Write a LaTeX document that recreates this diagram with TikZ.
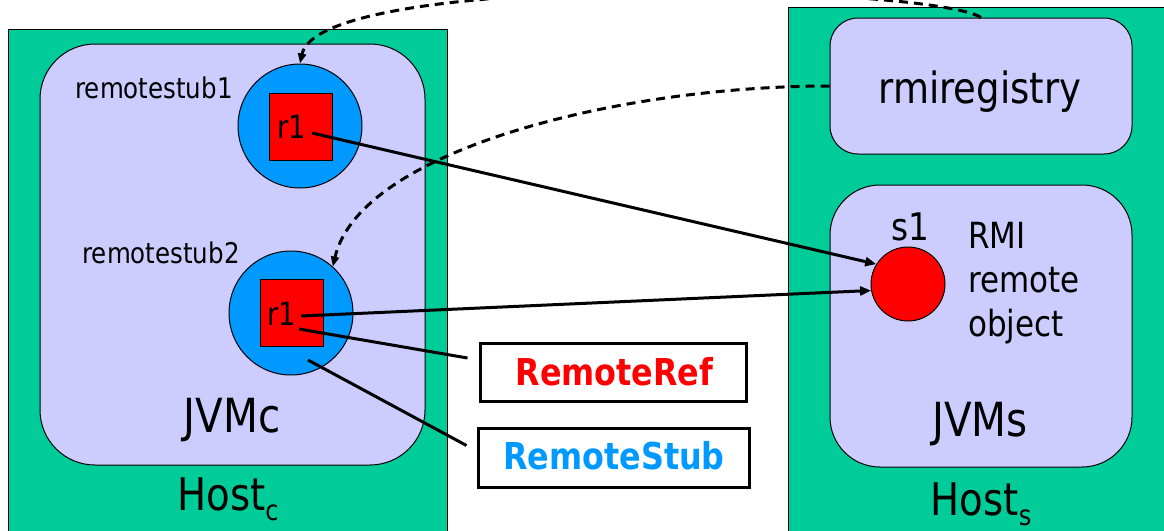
\documentclass[tikz,border=0pt]{standalone}
\usepackage{fontspec}
\setmainfont[FakeStretch=0.86]{DejaVu Sans}
\usetikzlibrary{arrows.meta}
\definecolor{hostgreen}{RGB}{0,204,153}
\definecolor{jvmlav}{RGB}{204,204,255}
\definecolor{stubblue}{RGB}{0,153,255}
\definecolor{refred}{RGB}{255,0,0}
\newcommand\fsz[1]{\fontsize{#1}{#1}\selectfont}
\begin{document}
\begin{tikzpicture}[x=1pt,y=-1pt,
  box/.style={draw=black,line width=1pt,inner sep=0pt},
  hostbox/.style={box,fill=hostgreen},
  jvmbox/.style={box,fill=jvmlav},
  stubcirc/.style={box,circle,fill=stubblue,minimum size=124pt},
  refsq/.style={box,fill=refred,minimum width=63pt,minimum height=67pt},
  txt/.style={inner sep=0pt,anchor=base},
  conn/.style={line width=3pt,-{Triangle[length=11pt,width=9pt]}},
  plainconn/.style={line width=3pt},
  dashconn/.style={line width=3pt,dash pattern=on 9pt off 6pt,-{Triangle[length=10pt,width=8pt]}},
  labelbox/.style={draw=black,line width=3pt,fill=white,inner sep=0pt}
]
\useasboundingbox (0,0) rectangle (1164,530);
\clip (0,0) rectangle (1164,530);
\fill[white] (0,0) rectangle (1164,530);

% left host
\node[hostbox,minimum width=439pt,minimum height=516pt] (hostc) at (227.5,287) {};
\node[jvmbox,rounded corners=55pt,minimum width=385pt,minimum height=421pt] (jvmc) at (232.5,254.5) {};
\node[stubcirc] (stub1) at (300,126) {};
\node[refsq] (ref1) at (300.5,126.5) {};
\node[txt,font=\fsz{32}] (r1a) at (291.7,138) {r1};
\node[stubcirc] (stub2) at (291,313) {};
\node[refsq] (ref2) at (291.5,312.5) {};
\node[txt,font=\fsz{32}] (r1b) at (282,325) {r1};
\node[txt,font=\fsz{28.5}] (lab1) at (154,98) {remotestub1};
\node[txt,font=\fsz{28.5}] (lab2) at (161,263) {remotestub2};
\node[txt,font=\fsz{47}] (jvmclab) at (232,432) {JVMc};
\node[txt,font=\fsz{45}] (hostclab) at (228,510) {Host\raisebox{-10pt}{\fsz{28}c}};

% right host
\node[hostbox,minimum width=392pt,minimum height=538pt] (hosts) at (984,276) {};
\node[jvmbox,rounded corners=28pt,minimum width=302pt,minimum height=136pt] (reg) at (981,86) {};
\node[txt,font=\fsz{43}] (reglab) at (980,103) {rmiregistry};
\node[jvmbox,rounded corners=50pt,minimum width=302pt,minimum height=282pt] (jvms) at (981,326) {};
\node[box,circle,fill=refred,minimum size=74pt] (s1) at (908,284) {};
\node[txt,font=\fsz{38}] (s1lab) at (910,240.5) {s1};
\node[txt,anchor=base west,font=\fsz{36}] (rmi1) at (968,248) {RMI};
\node[txt,anchor=base west,font=\fsz{36}] (rmi2) at (968,292) {remote};
\node[txt,anchor=base west,font=\fsz{36}] (rmi3) at (968,336) {object};
\node[txt,font=\fsz{47}] (jvmslab) at (980,436) {JVMs};
\node[txt,font=\fsz{45}] (hostslab) at (981,515) {Host\raisebox{-10pt}{\fsz{28}s}};

% legend boxes
\node[labelbox,minimum width=266pt,minimum height=58pt] (rrbox) at (613,372) {};
\node[txt,font=\bfseries\fsz{37},text=refred] (rrlab) at (614.5,385) {RemoteRef};
\node[labelbox,minimum width=271pt,minimum height=59pt] (rsbox) at (613.5,457.5) {};
\node[txt,font=\bfseries\fsz{37},text=stubblue] (rslab) at (614,469) {RemoteStub};

% connectors
\coordinate (p1) at (312,133);
\coordinate (p2) at (301,316);
\coordinate (p3) at (299,329);
\coordinate (p4) at (308,360);
\draw[conn] (p1) -- (s1.148);
\draw[conn] (p2) -- (s1.190);
\draw[plainconn] (p3) -- ([xshift=-11pt,yshift=14pt]rrbox.west);
\draw[plainconn] (p4) -- ([xshift=-10pt,yshift=12pt]rsbox.west);

\draw[dashconn] (reg.north) .. controls (930,-15) and (320,-30) .. (stub1.north);
\draw[dashconn] (reg.west) .. controls (620,86) and (360,150) .. (stub2.48);
\end{tikzpicture}
\end{document}
